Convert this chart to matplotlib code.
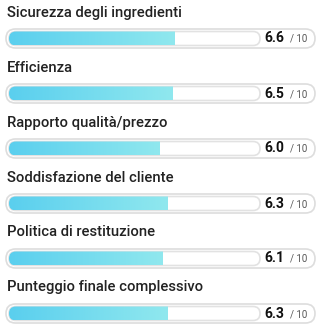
import matplotlib
matplotlib.use('Agg')
import matplotlib.pyplot as plt
from matplotlib.patches import FancyBboxPatch
import numpy as np

# dati
labels = ['Sicurezza degli ingredienti', 'Efficienza', 'Rapporto qualità/prezzo',
          'Soddisfazione del cliente', 'Politica di restituzione', 'Punteggio finale complessivo']
scores = [6.6, 6.5, 6.0, 6.3, 6.1, 6.3]
max_score = 10

plt.rcParams['font.family'] = ['Roboto', 'DejaVu Sans']

W, H = 321, 330
fig = plt.figure(figsize=(W / 100, H / 100), dpi=100)
ax = fig.add_axes([0, 0, 1, 1])
ax.set_xlim(0, W)
ax.set_ylim(H, 0)
ax.axis('off')

track_x0, track_w = 9, 251
grad = np.linspace(0, 1, 256).reshape(1, -1)
cmap = matplotlib.colors.LinearSegmentedColormap.from_list('g', ['#5acfee', '#90e8ee'])

for i, (lab, s) in enumerate(zip(labels, scores)):
    y0 = i * 55
    ax.text(7, y0 + 12.5, lab, fontsize=10.6, fontweight='medium', color='#222222',
            va='center', ha='left')
    bc = y0 + 38.5
    # pill esterno
    outer = FancyBboxPatch((6, bc - 9.5), 309, 19, boxstyle='round,pad=0,rounding_size=9.5',
                           facecolor='white', edgecolor='#dddddd', linewidth=1.2)
    ax.add_patch(outer)
    # track
    track = FancyBboxPatch((track_x0, bc - 7), track_w, 14, boxstyle='round,pad=0,rounding_size=7',
                           facecolor='white', edgecolor='#e2e2e2', linewidth=1.2)
    ax.add_patch(track)
    fw = track_w * s / max_score
    im = ax.imshow(grad, cmap=cmap, aspect='auto',
                   extent=(track_x0, track_x0 + fw, bc + 7, bc - 7), zorder=2)
    im.set_clip_path(track)
    ax.text(284, bc, f'{s:.1f}', fontsize=10, fontweight='bold', color='#111111',
            va='center', ha='right')
    ax.text(290, bc + 0.5, '/ 10', fontsize=7, color='#555555', va='center', ha='left')

fig.savefig('out.png', dpi=100)
